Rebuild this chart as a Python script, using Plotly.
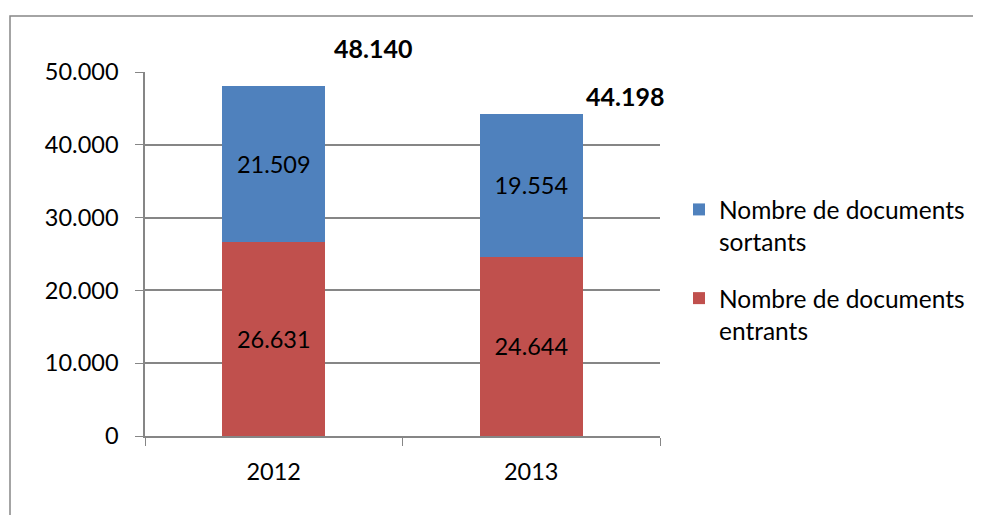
import plotly.graph_objects as go

years = ["2012", "2013"]
entrants = [26631, 24644]
sortants = [21509, 19554]
totals = [e + s for e, s in zip(entrants, sortants)]
series_names = ["Nombre de documents<br>entrants", "Nombre de documents<br>sortants"]
colors = ["#C0504D", "#4F81BD"]
ranks = [2, 1]

FONT = "Lato"
OFF = 8  # default body margin of the page
W, H = 981 - 2 * OFF, 523 - 2 * OFF
L, R, T, B = 145 - OFF, 660 - OFF, 72 - OFF, 436 - OFF
FS = 23.5

fig = go.Figure()
for name, vals, col, rk in zip(series_names, [entrants, sortants], colors, ranks):
    fig.add_trace(go.Bar(
        x=years, y=vals, name=name, marker=dict(color=col, line=dict(width=0)),
        width=0.4, texttemplate="%{y:,}", textposition="inside",
        insidetextanchor="middle", textfont=dict(color="black", size=FS, family=FONT),
        legendgroup=name, legendrank=rk,
    ))

# total labels (manually offset as in the original)
offsets = [(99, 38), (94, 18)]
for i, (tot, (dx, dy)) in enumerate(zip(totals, offsets)):
    fig.add_annotation(x=i, y=tot, xref="x", yref="y",
                       text="<b>" + f"{tot:,}".replace(",", ".") + "</b>",
                       showarrow=False, xshift=dx, yshift=dy, yanchor="middle",
                       font=dict(size=25, color="black", family=FONT))

# chart-area border (right and bottom edges fall just outside the page)
fig.add_shape(type="rect", xref="paper", yref="paper",
              x0=(10 - OFF - L) / (R - L), x1=(W + 4 - L) / (R - L),
              y0=(B - (H + 4)) / (B - T), y1=(B - (16 - OFF)) / (B - T),
              line=dict(color="#878787", width=1.5), fillcolor="rgba(0,0,0,0)", layer="below")

fig.update_layout(
    width=W, height=H, barmode="stack",
    separators=",.",
    paper_bgcolor="white", plot_bgcolor="white",
    margin=dict(l=L, r=W - R, t=T, b=H - B, pad=0, autoexpand=False),
    font=dict(family=FONT, size=FS, color="black"),
    showlegend=True,
    legend=dict(x=(679 - OFF - L) / (R - L), xanchor="left",
                y=(B - (270 - OFF)) / (B - T), yanchor="middle",
                traceorder="grouped", tracegroupgap=22, valign="top",
                font=dict(size=24.5, family=FONT, color="black"), bgcolor="rgba(0,0,0,0)"),
    xaxis=dict(type="category", range=[-0.5, 1.5], tickson="boundaries", ticks="outside", ticklen=8,
               tickcolor="#868686", showline=True, linecolor="#868686", linewidth=1.5,
               showgrid=False, ticklabelstandoff=14, tickfont=dict(size=FS), automargin=False),
    yaxis=dict(range=[0, 50000], tickvals=[0, 10000, 20000, 30000, 40000, 50000],
               tickformat=",", ticks="outside", ticklen=8, tickcolor="#868686",
               showline=True, linecolor="#868686", linewidth=1.5,
               showgrid=True, gridcolor="#868686", gridwidth=1.5,
               ticklabelstandoff=12, tickfont=dict(size=FS), zeroline=False, automargin=False),
)

fig.write_html("out.html")
